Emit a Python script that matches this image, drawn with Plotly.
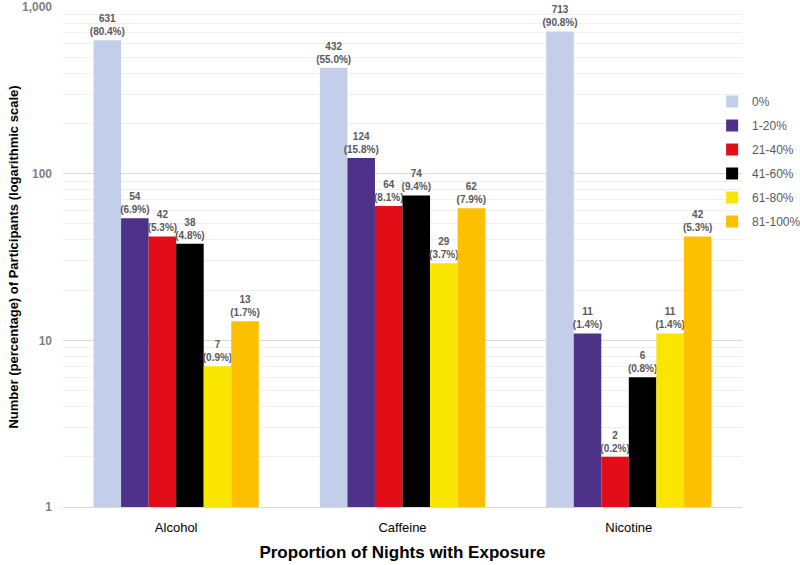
import plotly.graph_objects as go

categories = ["Alcohol", "Caffeine", "Nicotine"]
series_names = ["0%", "1-20%", "21-40%", "41-60%", "61-80%", "81-100%"]
counts = {
    "0%": [631, 432, 713],
    "1-20%": [54, 124, 11],
    "21-40%": [42, 64, 2],
    "41-60%": [38, 74, 6],
    "61-80%": [7, 29, 11],
    "81-100%": [13, 62, 42],
}
percents = {
    "0%": ["80.4%", "55.0%", "90.8%"],
    "1-20%": ["6.9%", "15.8%", "1.4%"],
    "21-40%": ["5.3%", "8.1%", "0.2%"],
    "41-60%": ["4.8%", "9.4%", "0.8%"],
    "61-80%": ["0.9%", "3.7%", "1.4%"],
    "81-100%": ["1.7%", "7.9%", "5.3%"],
}
colors = ["#C3CFEA", "#4E3189", "#E30D17", "#000000", "#F9E500", "#FCC000"]

fig = go.Figure()
for name, col in zip(series_names, colors):
    vals = counts[name]
    labels = [f"<b>{v}</b><br><b>({p})</b>" for v, p in zip(vals, percents[name])]
    fig.add_trace(go.Bar(
        x=categories, y=vals, name=name, marker_color=col,
        marker_line_width=0, legendgroup=name,
        text=labels, textposition="outside", cliponaxis=False,
        textfont=dict(size=10, color="#595959", family="Liberation Sans, Arial"),
    ))

fig.update_layout(
    width=800, height=565,
    barmode="group", bargap=0.27, bargroupgap=0,
    plot_bgcolor="white", paper_bgcolor="white",
    margin=dict(l=63, r=58, t=7, b=58, autoexpand=False),
    font=dict(family="Liberation Sans, Arial", color="#595959"),
    uniformtext=dict(minsize=10, mode="show"),
    legend=dict(x=0.956, xanchor="left", y=0.84, yanchor="top",
                font=dict(size=12, color="#595959"),
                itemwidth=30, tracegroupgap=5, traceorder="grouped",
                bgcolor="rgba(0,0,0,0)"),
    xaxis=dict(
        title=dict(text="<b>Proportion of Nights with Exposure</b>",
                   font=dict(size=17, color="#000000"), standoff=12),
        tickfont=dict(size=13, color="#000000"),
        ticklabelstandoff=8,
        showline=True, linecolor="#D9D9D9", linewidth=1,
        ticks="",
    ),
    yaxis=dict(
        type="log", range=[0, 3],
        tickvals=[1, 10, 100, 1000],
        ticktext=["<b>1</b>", "<b>10</b>", "<b>100</b>", "<b>1,000</b>"],
        tickfont=dict(size=12, color="#7F7F7F"),
        ticklabelstandoff=10,
        showgrid=True, gridcolor="#D9D9D9", gridwidth=1,
        minor=dict(showgrid=True, gridcolor="#EFEFEF", gridwidth=1,
                   tickvals=[m * 10 ** e for e in range(0, 3) for m in range(2, 10)]),
        zeroline=False,
        title=dict(text="<b>Number (percentage) of Participants (logarithmic scale)</b>",
                   font=dict(size=13, color="#000000"), standoff=0),
        ticks="",
    ),
)

fig.write_html("out.html", config={"displayModeBar": False},
               post_script="document.body.style.margin='0';")
